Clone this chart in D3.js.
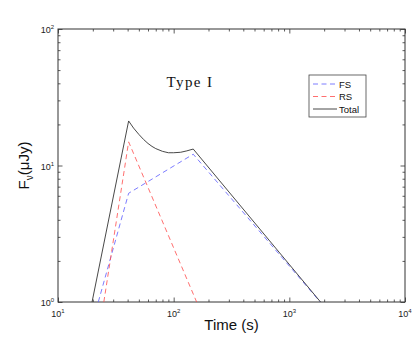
<!DOCTYPE html>
<html>
<head>
<meta charset="utf-8">
<script src="https://cdn.jsdelivr.net/npm/d3@7"></script>
<style>
  body { margin: 0; background: #fff; }
  svg { display: block; }
  .axis path { display: none; }
  .axis line { stroke: #333; stroke-width: 0.8; }
</style>
</head>
<body>
<div id="chart"></div>
<script>
// data (time in s, flux in uJy)
const fsTime = [22.3, 40.8, 147.6, 1850];
const fsFlux = [1.0, 6.26, 12.1, 1.0];

const rsTime = [24.9, 40.8, 158];
const rsFlux = [1.0, 14.9, 1.0];

const totalTime = [19.7, 40.8, 45, 50, 55, 60, 65, 70, 80, 90, 100, 115, 130, 147.6, 1862];
const totalFlux = [1.0, 21.2, 18.8, 16.9, 15.5, 14.5, 13.8, 13.3, 12.7, 12.4, 12.4, 12.5, 12.8, 13.2, 1.0];

const xMajor = [10, 100, 1000, 10000];
const xMajorExp = ["1", "2", "3", "4"];
const yMajor = [1, 10, 100];
const yMajorExp = ["0", "1", "2"];

const legendNames = ["FS", "RS", "Total"];

const width = 415, height = 337;
const margin = {top: 29, right: 10, bottom: 35, left: 58};
const innerW = width - margin.left - margin.right;
const innerH = height - margin.top - margin.bottom;

const svg = d3.select("#chart").append("svg")
    .attr("width", width)
    .attr("height", height);

const g = svg.append("g")
    .attr("transform", `translate(${margin.left},${margin.top})`);

const x = d3.scaleLog().domain([10, 10000]).range([0, innerW]);
const y = d3.scaleLog().domain([1, 100]).range([innerH, 0]);

// minor ticks between decades
const minorOf = majors => {
    let out = [];
    majors.slice(0, -1).forEach(m => {
        for (let k = 2; k <= 9; k++) out.push(m * k);
    });
    return out;
};
const xMinor = minorOf(xMajor);
const yMinor = minorOf(yMajor);

// ticks on all four sides, pointing inward
const addAxis = (axisFn, scale, vals, size, transform) => {
    g.append("g")
        .attr("class", "axis")
        .attr("transform", transform)
        .call(axisFn(scale).tickValues(vals).tickSize(size).tickFormat(""));
};
addAxis(d3.axisBottom, x, xMajor, -4.5, `translate(0,${innerH})`);
addAxis(d3.axisBottom, x, xMinor, -2.5, `translate(0,${innerH})`);
addAxis(d3.axisTop, x, xMajor, -4.5, "translate(0,0)");
addAxis(d3.axisTop, x, xMinor, -2.5, "translate(0,0)");
addAxis(d3.axisLeft, y, yMajor, -4.5, "translate(0,0)");
addAxis(d3.axisLeft, y, yMinor, -2.5, "translate(0,0)");
addAxis(d3.axisRight, y, yMajor, -4.5, `translate(${innerW},0)`);
addAxis(d3.axisRight, y, yMinor, -2.5, `translate(${innerW},0)`);

// frame
g.append("rect")
    .attr("width", innerW)
    .attr("height", innerH)
    .attr("fill", "none")
    .attr("stroke", "#333")
    .attr("stroke-width", 1);

// tick labels like 10^n
const labelFont = "Liberation Sans, Arial, sans-serif";
xMajor.forEach((v, i) => {
    let t = g.append("text")
        .attr("x", x(v))
        .attr("y", innerH + 15)
        .attr("text-anchor", "middle")
        .attr("font-family", labelFont)
        .attr("font-size", 9)
        .attr("fill", "#222");
    t.append("tspan").text("10");
    t.append("tspan").attr("dy", -4).attr("font-size", 6).text(xMajorExp[i]);
});
yMajor.forEach((v, i) => {
    let t = g.append("text")
        .attr("x", -4)
        .attr("y", y(v) + 4)
        .attr("text-anchor", "end")
        .attr("font-family", labelFont)
        .attr("font-size", 9)
        .attr("fill", "#222");
    t.append("tspan").text("10");
    t.append("tspan").attr("dy", -4).attr("font-size", 6).text(yMajorExp[i]);
});

// axis titles
svg.append("text")
    .attr("x", margin.left + innerW / 2)
    .attr("y", 330)
    .attr("text-anchor", "middle")
    .attr("font-family", labelFont)
    .attr("font-size", 15)
    .attr("fill", "#111")
    .text("Time (s)");

let yTitle = svg.append("text")
    .attr("transform", `translate(29,${margin.top + innerH / 2}) rotate(-90)`)
    .attr("text-anchor", "middle")
    .attr("font-family", labelFont)
    .attr("font-size", 15)
    .attr("fill", "#111");
yTitle.append("tspan").text("F");
yTitle.append("tspan").attr("dy", 4).attr("font-size", 10).text("ν");
yTitle.append("tspan").attr("dy", -4).text("(μJy)");

// curves
g.append("clipPath").attr("id", "plot-clip")
    .append("rect").attr("width", innerW).attr("height", innerH);

const line = d3.line()
    .x(d => x(d[0]))
    .y(d => y(d[1]));

const series = [
    {name: "FS", pts: d3.zip(fsTime, fsFlux), color: "#5a5aff", dash: "5,3.5", w: 0.8},
    {name: "RS", pts: d3.zip(rsTime, rsFlux), color: "#ff4a4a", dash: "5,3.5", w: 0.8},
    {name: "Total", pts: d3.zip(totalTime, totalFlux), color: "#333", dash: null, w: 0.9}
];

series.forEach(s => {
    g.append("path")
        .datum(s.pts)
        .attr("clip-path", "url(#plot-clip)")
        .attr("fill", "none")
        .attr("stroke", s.color)
        .attr("stroke-width", s.w)
        .attr("stroke-dasharray", s.dash)
        .attr("d", line);
});

// title inside plot
svg.append("text")
    .attr("x", 190)
    .attr("y", 87)
    .attr("text-anchor", "middle")
    .attr("font-family", "Liberation Serif, Times New Roman, serif")
    .attr("font-size", 15)
    .attr("letter-spacing", 1.4)
    .attr("fill", "#111")
    .text("Type I");

// legend
const legend = svg.append("g").attr("transform", "translate(309,75)");
legend.append("rect")
    .attr("width", 57)
    .attr("height", 42)
    .attr("fill", "#fff")
    .attr("stroke", "#444")
    .attr("stroke-width", 0.8);

series.forEach((s, i) => {
    let yy = 9 + i * 12.5;
    legend.append("line")
        .attr("x1", 4).attr("x2", 28)
        .attr("y1", yy).attr("y2", yy)
        .attr("stroke", s.color)
        .attr("stroke-width", s.w)
        .attr("stroke-dasharray", s.dash);
    legend.append("text")
        .attr("x", 30)
        .attr("y", yy + 3.5)
        .attr("font-family", labelFont)
        .attr("font-size", 9.5)
        .attr("fill", "#111")
        .text(legendNames[i]);
});
</script>
</body>
</html>
